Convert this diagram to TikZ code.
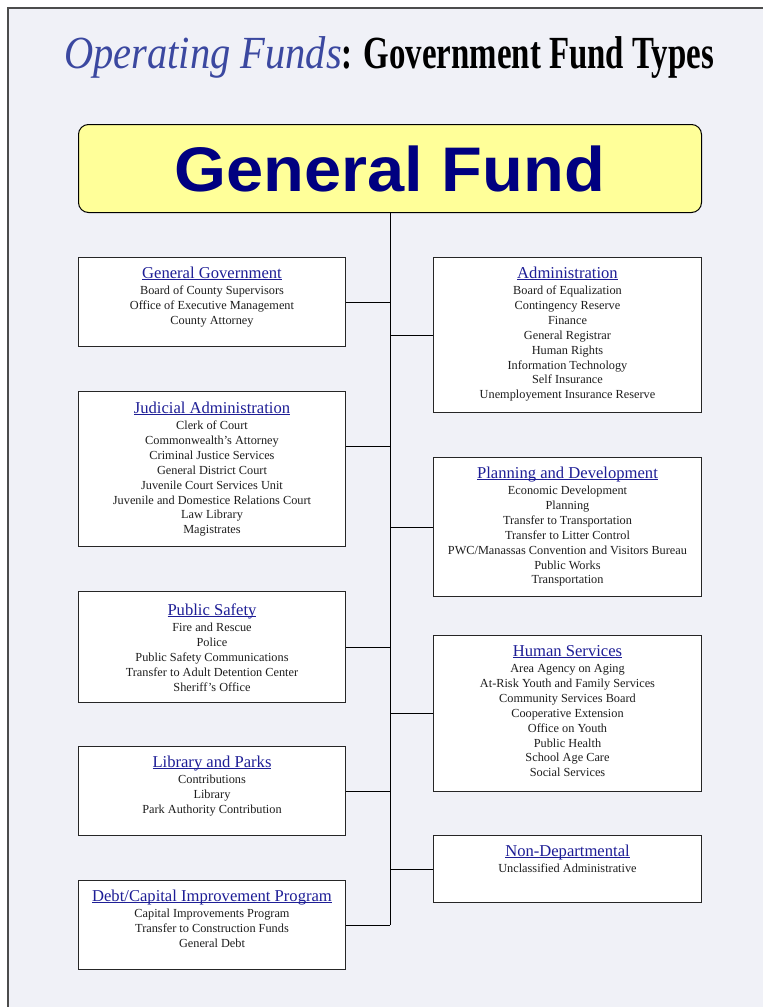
\documentclass[tikz,border=0pt]{standalone}
\usepackage{fontspec}
\setmainfont{Liberation Serif}
\newfontfamily\gfsans{Liberation Sans}
\usepackage{graphicx}
\usepackage{xcolor}
\usetikzlibrary{positioning}
\definecolor{pagebg}{RGB}{240,241,247}
\definecolor{titleblue}{RGB}{59,72,160}
\definecolor{gfyellow}{RGB}{255,255,153}
\definecolor{gfnavy}{RGB}{0,0,128}
\definecolor{headblue}{RGB}{30,30,150}
\definecolor{itemgray}{RGB}{30,30,30}
\tikzset{
  fundbox/.style={draw=black!85, fill=white, line width=1pt, minimum width=267pt, inner sep=0pt, anchor=north west},
  fundtext/.style={align=center, inner sep=0pt, anchor=north, text=itemgray, font=\fontsize{12.3}{14.9}\selectfont},
  link/.style={draw=black, line width=1pt},
}
\newcommand{\fundline}[1]{\setbox0\hbox{#1}\rlap{\rule[-1.8pt]{\wd0}{0.8pt}}\box0}
\newcommand{\fundhead}[1]{\rule{0pt}{12pt}{\fontsize{16.6}{17}\selectfont\color{headblue}\fundline{#1}}\\[1.4pt]}

\begin{document}
\begin{tikzpicture}[x=1pt, y=-1pt]
        % page
        \useasboundingbox (0,0) rectangle (763,1007);
        \fill[white] (0,0) rectangle (763,1007);
        \fill[pagebg] (8,8) rectangle (763,1007);
        \draw[line width=1.3pt, black!70] (8,1007) -- (8,8) -- (763,8);

        % title
        \node[anchor=base west, inner sep=0pt] (title) at (64,68) {\fontsize{46}{50}\selectfont\scalebox{0.88}[1]{\color{titleblue}\itshape Operating Funds}\scalebox{0.715}[1]{\bfseries : Government Fund Types}};

        % general fund
        \node[draw=black, fill=gfyellow, line width=1pt, rounded corners=10pt, anchor=north west, minimum width=623pt, minimum height=88pt, inner sep=0pt, text=gfnavy, font=\gfsans\bfseries\fontsize{63}{64}\selectfont] (gf) at (78,124) {\scalebox{1.06}[1]{General Fund}};

        % left boxes
        \node[fundbox, minimum height=89pt] (gg) at (78,257) {};
        \node[fundbox, minimum height=155pt] (jud) at (78,391) {};
        \node[fundbox, minimum height=111pt] (ps) at (78,591) {};
        \node[fundbox, minimum height=89pt] (lib) at (78,746) {};
        \node[fundbox, minimum height=89pt] (debt) at (78,880) {};
        % right boxes
        \node[fundbox, minimum width=268pt, minimum height=155pt] (adm) at (433,257) {};
        \node[fundbox, minimum width=268pt, minimum height=139pt] (pln) at (433,457) {};
        \node[fundbox, minimum width=268pt, minimum height=156pt] (hum) at (433,635) {};
        \node[fundbox, minimum width=268pt, minimum height=67pt] (nond) at (433,835) {};

        % box texts
        \node[fundtext] (ggt) at ([yshift=-9pt]gg.north) {\fundhead{General Government}
          Board of County Supervisors\\ Office of Executive Management\\ County Attorney};
        \node[fundtext] (judt) at ([yshift=-10pt]jud.north) {\fundhead{Judicial Administration}
          Clerk of Court\\ Commonwealth's Attorney\\ Criminal Justice Services\\ General District Court\\
          Juvenile Court Services Unit\\ Juvenile and Domestice Relations Court\\ Law Library\\ Magistrates};
        \node[fundtext] (pst) at ([yshift=-12pt]ps.north) {\fundhead{Public Safety}
          Fire and Rescue\\ Police\\ Public Safety Communications\\ Transfer to Adult Detention Center\\ Sheriff's Office};
        \node[fundtext] (libt) at ([yshift=-9pt]lib.north) {\fundhead{Library and Parks}
          Contributions\\ Library\\ Park Authority Contribution};
        \node[fundtext] (debtt) at ([yshift=-9pt]debt.north) {\fundhead{Debt/Capital Improvement Program}
          Capital Improvements Program\\ Transfer to Construction Funds\\ General Debt};
        \node[fundtext] (admt) at ([yshift=-9pt]adm.north) {\fundhead{Administration}
          Board of Equalization\\ Contingency Reserve\\ Finance\\ General Registrar\\ Human Rights\\
          Information Technology\\ Self Insurance\\ Unemployement Insurance Reserve};
        \node[fundtext] (plnt) at ([yshift=-9pt]pln.north) {\fundhead{Planning and Development}
          Economic Development\\ Planning\\ Transfer to Transportation\\ Transfer to Litter Control\\
          PWC/Manassas Convention and Visitors Bureau\\ Public Works\\ Transportation};
        \node[fundtext] (humt) at ([yshift=-9pt]hum.north) {\fundhead{Human Services}
          Area Agency on Aging\\ At-Risk Youth and Family Services\\ Community Services Board\\ Cooperative Extension\\
          Office on Youth\\ Public Health\\ School Age Care\\ Social Services};
        \node[fundtext] (nondt) at ([yshift=-9pt]nond.north) {\fundhead{Non-Departmental}
          Unclassified Administrative};

        % edges
        \draw[link] (gf.south) -- (gf.south |- debt.east);
        \foreach \b in {gg,ps,lib,debt}
          \draw[link] (\b.east) -- (\b.east -| gf.south);
        \draw[link] ([yshift=22.5pt]jud.east) -- ([yshift=22.5pt]jud.east -| gf.south);
        \foreach \b in {adm,pln,hum,nond}
          \draw[link] (gf.south |- \b.west) -- (\b.west);
\end{tikzpicture}
\end{document}
